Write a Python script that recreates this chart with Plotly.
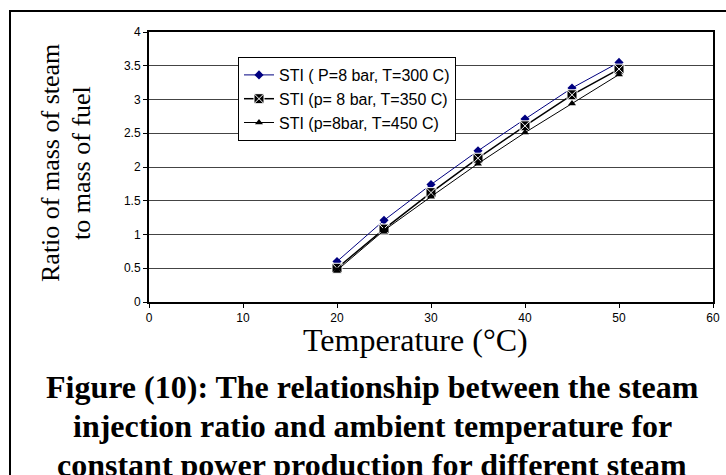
import plotly.graph_objects as go

# ---- data ----
temperature = [20, 25, 30, 35, 40, 45, 50]
sti_300 = [0.60, 1.21, 1.74, 2.24, 2.71, 3.17, 3.55]
sti_350 = [0.50, 1.08, 1.62, 2.13, 2.61, 3.07, 3.45]
sti_450 = [0.47, 1.06, 1.56, 2.05, 2.51, 2.94, 3.37]
series_names = ["STI ( P=8 bar, T=300 C)", "STI (p= 8 bar, T=350 C)", "STI (p=8bar, T=450 C)"]
x_ticks = [0, 10, 20, 30, 40, 50, 60]
y_ticks = [0, 0.5, 1, 1.5, 2, 2.5, 3, 3.5, 4]
y_tick_labels = ["0", "0.5", "1", "1.5", "2", "2.5", "3", "3.5", "4"]

W, H = 726, 475
L, R, T, B = 149, 713, 32, 302  # window pixels of the plot area


def px(x):
    return (x - L) / (R - L)


def py(y):
    return (B - y) / (B - T)


fig = go.Figure()
fig.add_trace(go.Scatter(
    x=temperature, y=sti_300, name=series_names[0], mode="lines+markers",
    line=dict(color="#000080", width=1),
    marker=dict(symbol="diamond", size=7, color="#000080")))
fig.add_trace(go.Scatter(
    x=temperature, y=sti_350, name=series_names[1], mode="lines+markers",
    line=dict(color="#000000", width=1.5),
    marker=dict(symbol="square-x", size=10, color="#000000",
                line=dict(color="#ffffff", width=1))))
fig.add_trace(go.Scatter(
    x=temperature, y=sti_450, name=series_names[2], mode="lines+markers",
    line=dict(color="#000000", width=1),
    marker=dict(symbol="triangle-up", size=7, color="#000000")))

tick_font = dict(family="Liberation Sans, Arial, sans-serif", size=12, color="#000")
serif = "Liberation Serif, Times New Roman, serif"

fig.update_layout(
    width=W, height=H,
    margin=dict(l=L, r=W - R, t=T, b=H - B, autoexpand=False),
    paper_bgcolor="white", plot_bgcolor="white",
    showlegend=True,
    legend=dict(x=px(238), y=py(57), xanchor="left", yanchor="top",
                bgcolor="white", bordercolor="black", borderwidth=1,
                font=dict(family="Liberation Sans, Arial, sans-serif", size=16, color="#000"),
                itemwidth=30, tracegroupgap=0),
    xaxis=dict(range=[0, 60], tickvals=x_ticks, ticks="outside", ticklen=4,
               tickcolor="black", showline=True, linecolor="black", linewidth=2,
               mirror=True, showgrid=False, zeroline=False, tickfont=tick_font,
               automargin=False),
    yaxis=dict(range=[0, 4], tickvals=y_ticks, ticktext=y_tick_labels,
               ticks="outside", ticklen=4, tickcolor="black", showline=True,
               linecolor="black", linewidth=2, mirror=True, showgrid=True,
               gridcolor="#444444", gridwidth=1, zeroline=False, tickfont=tick_font,
               automargin=False),
)

annotations = [
    dict(text="Temperature (°C)", x=px(415), y=py(340), xanchor="center", yanchor="middle",
         font=dict(family=serif, size=32, color="#000")),
    dict(text="Ratio of mass of steam", x=px(50), y=py(163), xanchor="center", yanchor="middle",
         textangle=-90, font=dict(family=serif, size=26, color="#000")),
    dict(text="to mass of fuel", x=px(81), y=py(163), xanchor="center", yanchor="middle",
         textangle=-90, font=dict(family=serif, size=26, color="#000")),
    dict(text="<b>Figure (10): The relationship between the steam</b>", x=px(372), y=py(387),
         xanchor="center", yanchor="middle", font=dict(family=serif, size=32, color="#000")),
    dict(text="<b>injection ratio and ambient temperature for</b>", x=px(372), y=py(426),
         xanchor="center", yanchor="middle", font=dict(family=serif, size=32, color="#000")),
    dict(text="<b>constant power production for different steam</b>", x=px(372), y=py(465),
         xanchor="center", yanchor="middle", font=dict(family=serif, size=32, color="#000")),
]
for a in annotations:
    a.update(xref="paper", yref="paper", showarrow=False)
fig.update_layout(annotations=annotations)

fig.add_shape(type="rect", xref="paper", yref="paper",
              x0=px(10), x1=px(740), y0=py(490), y1=py(11),
              line=dict(color="black", width=2), fillcolor="rgba(0,0,0,0)", layer="above")

fig.write_html(
    "out.html",
    config={"displayModeBar": False},
    post_script="document.body.style.margin='0';document.body.style.overflow='hidden';",
)
